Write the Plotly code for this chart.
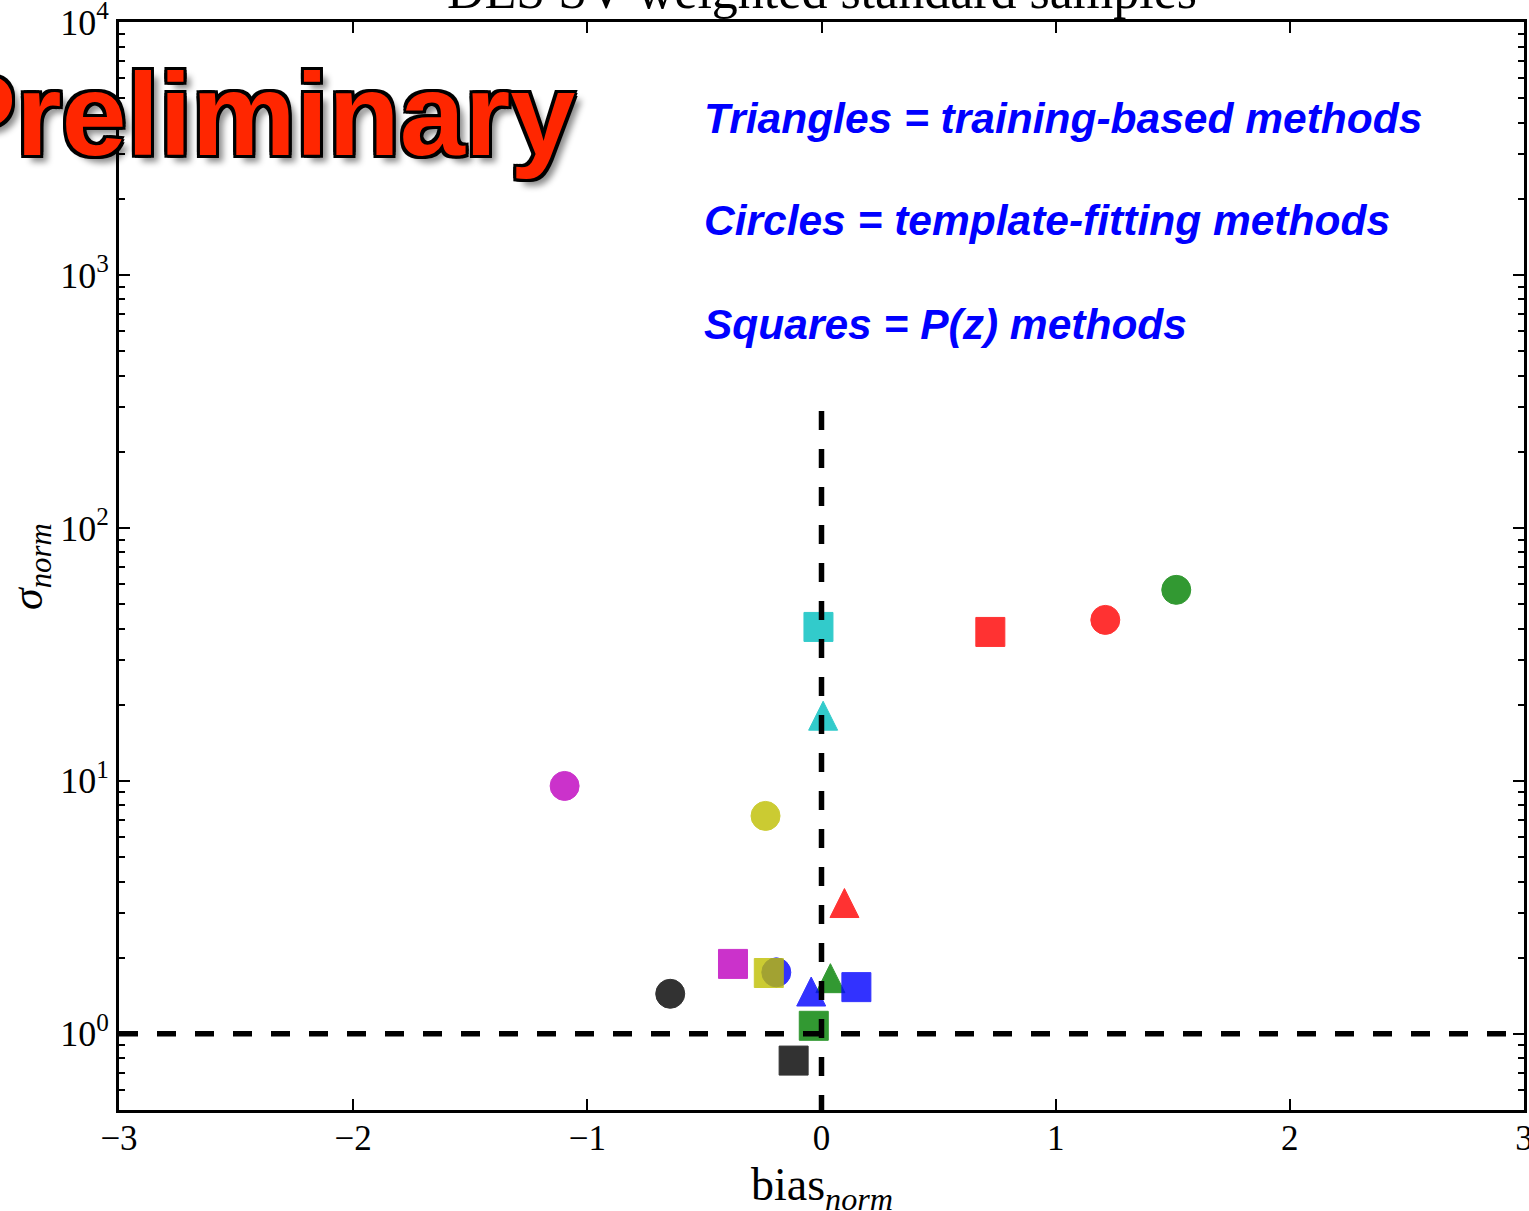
import math
import plotly.graph_objects as go

# ---- data ----
# Triangles = training-based methods
tri_bias = [0.007, 0.098, 0.038, -0.044]
tri_sigma = [18.1, 3.29, 1.66, 1.47]
tri_colors = ["c", "r", "g", "b"]

# Circles = template-fitting methods
circ_bias = [1.212, 1.515, -1.097, -0.239, -0.193, -0.646]
circ_sigma = [43.3, 56.9, 9.55, 7.27, 1.75, 1.44]
circ_colors = ["r", "g", "m", "y", "b", "k"]

# Squares = P(z) methods
sq_bias = [-0.013, 0.721, -0.378, -0.225, 0.149, -0.033, -0.119]
sq_sigma = [40.6, 38.8, 1.89, 1.74, 1.53, 1.076, 0.784]
sq_colors = ["c", "r", "m", "y", "b", "g", "k"]

# reference lines
hline_x = [-3, 3]
hline_y = [1, 1]
vline_x = [0, 0]
vline_y = [290, 0.5]

x_ticks = [-3, -2, -1, 0, 1, 2, 3]
x_ticktext = ["\u22123", "\u22122", "\u22121", "0", "1", "2", "3"]
y_ticks = [1, 10, 100, 1000, 10000]
y_ticktext = ["10<sup>0</sup>", "10<sup>1</sup>", "10<sup>2</sup>", "10<sup>3</sup>", "10<sup>4</sup>"]
y_minor = [m * 10 ** d for d in range(-1, 4) for m in range(2, 10) if m * 10 ** d >= 0.5]

MPL = {"b": "#0000FF", "g": "#008000", "r": "#FF0000", "c": "#00BFBF",
       "m": "#BF00BF", "y": "#BFBF00", "k": "#000000"}

fig = go.Figure()

def add_group(xs, ys, cols, symbol, size, angle=0, standoff=0):
    fig.add_trace(go.Scatter(
        x=xs, y=ys, mode="markers", showlegend=False,
        marker=dict(symbol=symbol, size=size, opacity=0.8, angle=angle, standoff=standoff,
                    color=[MPL[c] for c in cols],
                    line=dict(color=[MPL[c] for c in cols], width=1)),
    ))

add_group(circ_bias, circ_sigma, circ_colors, "circle", 29)
# upward triangle of equal width/height centred on the point
add_group(tri_bias, tri_sigma, tri_colors, "arrow-down", 29, angle=180, standoff=14.5)
add_group(sq_bias, sq_sigma, sq_colors, "square", 29)

for xs, ys in [(hline_x, hline_y), (vline_x, vline_y)]:
    fig.add_trace(go.Scatter(x=xs, y=ys, mode="lines", showlegend=False,
                             line=dict(color="black", width=5.5, dash="19px,19px")))

SERIF = "Liberation Serif, Times New Roman, serif"
SANS = "Liberation Sans, Arial, sans-serif"

L, R, T, B = 119, 5, 22, 101
W, H = 1529, 1211
PW, PH = W - L - R, H - T - B

def px_x(px):
    return (px - L) / PW

def px_y(py):
    return (H - B - py) / PH

annotations = [
    dict(text="DES SV weighted standard samples", x=px_x(822), y=px_y(-9),
         font=dict(family=SERIF, size=52, color="black")),
    dict(text="bias<sub><i>norm</i></sub>", x=px_x(822), y=px_y(1188),
         font=dict(family=SERIF, size=46, color="black")),
    dict(text="<i>\u03c3</i><sub><i>norm</i></sub>", x=px_x(30), y=px_y(567), textangle=-90,
         font=dict(family=SERIF, size=44, color="black")),
    dict(text="<b><i>Triangles = training-based methods</i></b>", x=px_x(702), y=px_y(119),
         xanchor="left", font=dict(family=SANS, size=42.5, color="#0000FF")),
    dict(text="<b><i>Circles = template-fitting methods</i></b>", x=px_x(702), y=px_y(221),
         xanchor="left", font=dict(family=SANS, size=42.5, color="#0000FF")),
    dict(text="<b><i>Squares = P(z) methods</i></b>", x=px_x(702), y=px_y(325),
         xanchor="left", font=dict(family=SANS, size=42.5, color="#0000FF")),
    dict(text="<b>Preliminary</b>", x=px_x(-64), y=px_y(114), xanchor="left",
         font=dict(family=SANS, size=117, color="#FF2600",
                   shadow=("-3px -3px 0 #000, 3px -3px 0 #000, -3px 3px 0 #000, 3px 3px 0 #000, "
                           "0 3px 0 #000, 0 -3px 0 #000, 3px 0 0 #000, -3px 0 0 #000, "
                           "7px 7px 6px rgba(0,0,0,0.45)"))),
]
for a in annotations:
    a.setdefault("xanchor", "center")
    a.update(xref="paper", yref="paper", showarrow=False, yanchor="middle")

fig.update_layout(
    width=W, height=H,
    margin=dict(l=L, r=R, t=T, b=B, autoexpand=False),
    paper_bgcolor="white", plot_bgcolor="white",
    annotations=annotations,
    xaxis=dict(range=[-3, 3], tickmode="array", tickvals=x_ticks, ticktext=x_ticktext,
               ticks="inside", ticklen=11, tickwidth=1.5, tickcolor="black",
               showline=True, linewidth=3, linecolor="black", mirror="ticks",
               showgrid=False, zeroline=False, ticklabeloverflow="allow",
               automargin=False, ticklabelstandoff=-5,
               tickfont=dict(family=SERIF, size=35, color="black")),
    yaxis=dict(type="log", range=[math.log10(0.5), 4.0000001], tickmode="array",
               tickvals=y_ticks, ticktext=y_ticktext,
               ticks="inside", ticklen=11, tickwidth=1.5, tickcolor="black",
               minor=dict(tickmode="array", tickvals=y_minor, ticks="inside", ticklen=6,
                          tickwidth=1.5, tickcolor="black", showgrid=False),
               showline=True, linewidth=3, linecolor="black", mirror="ticks",
               showgrid=False, zeroline=False, ticklabeloverflow="allow",
               automargin=False,
               tickfont=dict(family=SERIF, size=36, color="black")),
)

fig.write_html("out.html")
